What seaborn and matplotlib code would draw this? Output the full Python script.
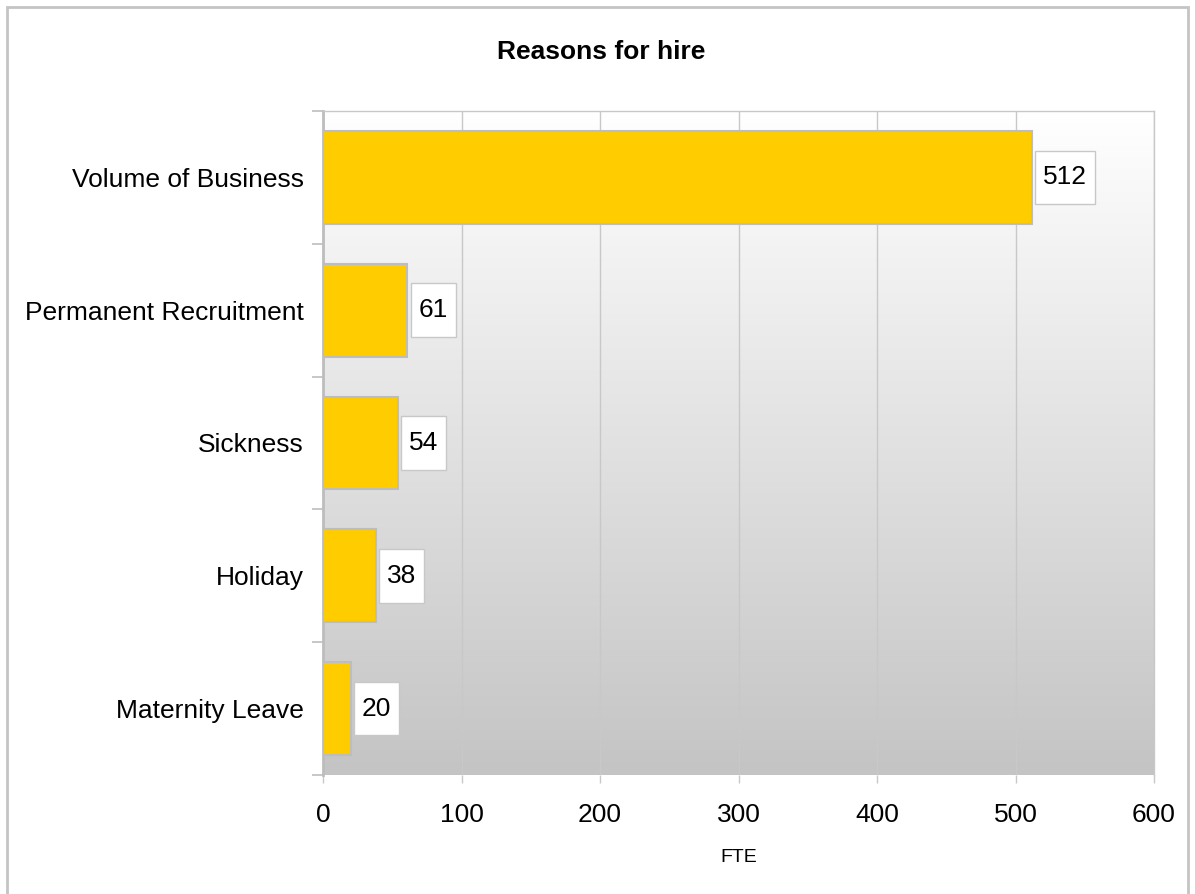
import numpy as np
import pandas as pd
import matplotlib
matplotlib.use("Agg")
import matplotlib.pyplot as plt
import seaborn as sns
from matplotlib.patches import Rectangle
from matplotlib.path import Path

# Hiring reasons and their full-time-equivalent counts
reasons = ["Volume of Business", "Permanent Recruitment", "Sickness", "Holiday", "Maternity Leave"]
fte = [512, 61, 54, 38, 20]
x_ticks = [0, 100, 200, 300, 400, 500, 600]

sns.set_theme(style="white")
plt.rcParams["font.family"] = ["Liberation Sans", "DejaVu Sans"]

FS = 19

df = pd.DataFrame({"reason": reasons, "fte": fte})

fig = plt.figure(figsize=(11.95, 8.94), dpi=100)
ax = fig.add_axes([323 / 1195, 1 - 775 / 894, (1154 - 323) / 1195, (775 - 111) / 894])

# Outer chart frame
fig.patches.append(Rectangle((7 / 1195, -0.01), (1188 - 7) / 1195, (894 - 7) / 894 + 0.01,
                             transform=fig.transFigure, fill=False,
                             edgecolor="#c4c4c4", linewidth=2, zorder=0))

# Vertical white-to-grey gradient behind the plot area
grad = np.linspace(1.0, 0.0, 256).reshape(-1, 1)
cmap = matplotlib.colors.LinearSegmentedColormap.from_list("bg", ["#c4c4c4", "#ffffff"])
ax.imshow(grad, cmap=cmap, aspect="auto", extent=[0, 1, 0, 1],
          transform=ax.transAxes, zorder=-2, interpolation="bilinear")

sns.barplot(data=df, y="reason", x="fte", orient="h", color="#ffcc00",
            edgecolor="#bdbdbd", linewidth=1.5, width=0.7, saturation=1, ax=ax, zorder=3)

ax.set_xlim(0, 600)
ax.set_ylim(4.5, -0.5)
ax.set_xticks(x_ticks)
ax.set_xticklabels([str(t) for t in x_ticks])
ax.xaxis.grid(True, color="#c8c8c8", linewidth=1, zorder=0)
ax.set_axisbelow(True)

# Category separators as outward ticks on the category axis
ax.set_yticks(np.arange(-0.5, 5.0, 1.0), minor=True)
ax.tick_params(axis="y", which="major", length=0, pad=14, labelsize=FS, labelcolor="black")
ax.tick_params(axis="y", which="minor", length=8, width=1.2, color="#bdbdbd", left=True)
ax.tick_params(axis="x", which="major", length=6, width=1, color="#c8c8c8", bottom=True,
               pad=14, labelsize=FS, labelcolor="black")

for side in ["top", "right"]:
    ax.spines[side].set_color("#c8c8c8")
    ax.spines[side].set_linewidth(1)
ax.spines["left"].set_color("#bdbdbd")
ax.spines["left"].set_linewidth(2)
ax.spines["bottom"].set_visible(False)

ax.set_ylabel("")
ax.set_xlabel("FTE", fontsize=14, labelpad=16, color="black")


def label_box(x0, y0, width, height, mutation_size):
    """Rectangle around a value label, padded more vertically than horizontally."""
    px = 0.30 * mutation_size
    py = 0.56 * mutation_size
    xa, xb = x0 - px, x0 + width + px
    ya, yb = y0 - py, y0 + height + py
    return Path([(xa, ya), (xb, ya), (xb, yb), (xa, yb), (xa, ya)], closed=True)


ax.bar_label(ax.containers[0], labels=[str(v) for v in fte], padding=8,
             fontsize=FS, color="black",
             bbox=dict(boxstyle=label_box, facecolor="white",
                       edgecolor="#c8c8c8", linewidth=1))

fig.text(601 / 1195, 1 - 52 / 894, "Reasons for hire", ha="center", va="center",
         fontsize=FS, fontweight="bold", color="black")

fig.savefig("out.png", dpi=100, facecolor="white")
